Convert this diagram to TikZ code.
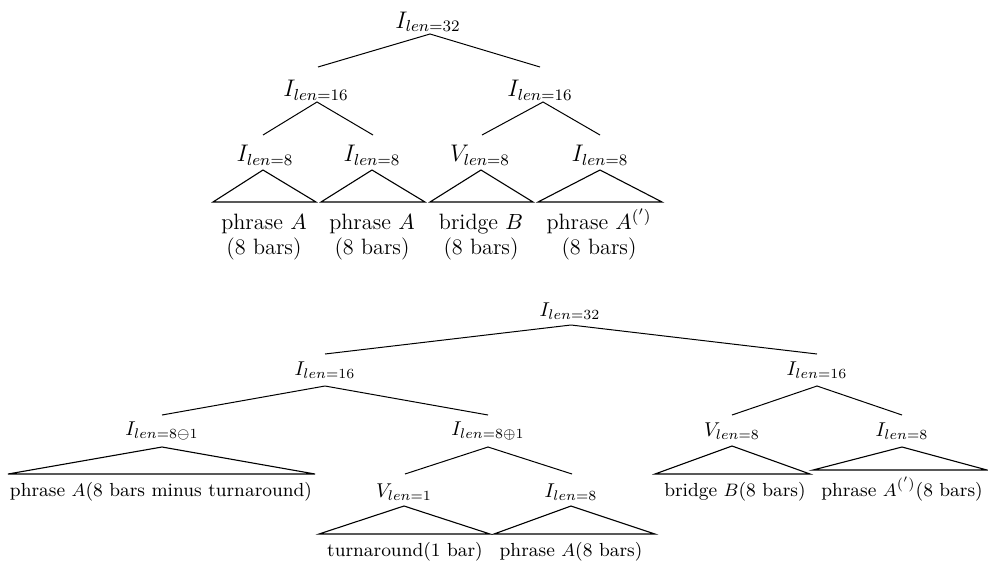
\documentclass[tikz,border=0pt]{standalone}
\usepackage{amssymb}
\begin{document}
\begin{tikzpicture}[x=0.5pt,y=-0.5pt,
  edge/.style={line width=0.5pt},
  tri/.style={line width=0.55pt},
  toplabel/.style={font=\fontsize{11.7pt}{14pt}\selectfont, inner sep=0pt},
  topleaf/.style={font=\fontsize{11.1pt}{13.3pt}\selectfont, inner sep=0pt, anchor=base},
  botlabel/.style={font=\fontsize{10pt}{12pt}\selectfont, inner sep=0pt},
  botleaf/.style={font=\fontsize{9.45pt}{11pt}\selectfont, inner sep=0pt, anchor=base}]
\useasboundingbox (0,0) rectangle (988,562);

% ---------- top tree ----------
\node[toplabel] (r) at (428,22) {$I_{len=32}$};
\node[toplabel] (a) at (316,90) {$I_{len=16}$};
\node[toplabel] (b) at (540,90) {$I_{len=16}$};
\node[toplabel] (a1) at (265,155) {$I_{len=8}$};
\node[toplabel] (a2) at (372,155) {$I_{len=8}$};
\node[toplabel] (b1) at (480,155) {$V_{len=8}$};
\node[toplabel] (b2) at (600,155) {$I_{len=8}$};
\node[topleaf] (la1) at (264,229) {phrase $A$};
\node[topleaf] (la1b) at (264,254) {(8 bars)};
\node[topleaf] (la2) at (372,229) {phrase $A$};
\node[topleaf] (la2b) at (372,254) {(8 bars)};
\node[topleaf] (lb1) at (481,229) {bridge $B$};
\node[topleaf] (lb1b) at (481,254) {(8 bars)};
\node[topleaf] (lb2) at (599,229) {phrase $A^{(')}$};
\node[topleaf] (lb2b) at (599,254) {(8 bars)};

\coordinate (rA) at (430,34);
\coordinate (aT) at (318,67);
\coordinate (bT) at (540,67);
\draw[edge] (aT) -- (rA) -- (bT);

\coordinate (aA) at (317,102);
\coordinate (a1T) at (263,135);
\coordinate (a2T) at (373,135);
\draw[edge] (a1T) -- (aA) -- (a2T);

\coordinate (bA) at (543,102);
\coordinate (b1T) at (482,135);
\coordinate (b2T) at (600,135);
\draw[edge] (b1T) -- (bA) -- (b2T);

\coordinate (a1A) at (263,170);
\draw[tri] (213,202) -- (a1A) -- (316,202) -- cycle;
\coordinate (a2A) at (372,170);
\draw[tri] (321,202) -- (a2A) -- (425,202) -- cycle;
\coordinate (b1A) at (481,170);
\draw[tri] (430,202) -- (b1A) -- (533,202) -- cycle;
\coordinate (b2A) at (600,170);
\draw[tri] (538,202) -- (b2A) -- (662,202) -- cycle;

% ---------- bottom tree ----------
\node[botlabel] (R) at (570,311) {$I_{len=32}$};
\node[botlabel] (L) at (325,370) {$I_{len=16}$};
\node[botlabel] (Q) at (817,370) {$I_{len=16}$};
\node[botlabel] (L1) at (162,431) {$I_{len=8\ominus1}$};
\node[botlabel] (L2) at (488,431) {$I_{len=8\oplus1}$};
\node[botlabel] (L2a) at (404,492) {$V_{len=1}$};
\node[botlabel] (L2b) at (571,492) {$I_{len=8}$};
\node[botlabel] (Q1) at (732,431) {$V_{len=8}$};
\node[botlabel] (Q2) at (902,431) {$I_{len=8}$};
\node[botleaf] (tL1) at (161,496) {phrase $A$(8 bars minus turnaround)};
\node[botleaf] (tL2a) at (405,556) {turnaround(1 bar)};
\node[botleaf] (tL2b) at (571,556) {phrase $A$(8 bars)};
\node[botleaf] (tQ1) at (735,496) {bridge $B$(8 bars)};
\node[botleaf] (tQ2) at (902,496) {phrase $A^{(')}$(8 bars)};

\coordinate (RA) at (571,325);
\coordinate (LT) at (325,354);
\coordinate (QT) at (817,354);
\draw[edge] (LT) -- (RA) -- (QT);

\coordinate (LA) at (325,386);
\coordinate (L1T) at (162,415);
\coordinate (L2T) at (488,415);
\draw[edge] (L1T) -- (LA) -- (L2T);

\coordinate (QA) at (817,386);
\coordinate (Q1T) at (732,415);
\coordinate (Q2T) at (902,415);
\draw[edge] (Q1T) -- (QA) -- (Q2T);

\coordinate (L2A) at (488,447);
\coordinate (L2aT) at (405,474);
\coordinate (L2bT) at (572,474);
\draw[edge] (L2aT) -- (L2A) -- (L2bT);

\coordinate (L1A) at (162,447);
\draw[tri] (8,474) -- (L1A) -- (315,474) -- cycle;
\coordinate (L2aA) at (404,506);
\draw[tri] (319,534) -- (L2aA) -- (490,534) -- cycle;
\coordinate (L2bA) at (571,506);
\draw[tri] (494,534) -- (L2bA) -- (655,534) -- cycle;
\coordinate (Q1A) at (732,446);
\draw[tri] (655,474) -- (Q1A) -- (810,474) -- cycle;
\coordinate (Q2A) at (902,447);
\draw[tri] (813,470) -- (Q2A) -- (987,470) -- cycle;
\end{tikzpicture}
\end{document}
